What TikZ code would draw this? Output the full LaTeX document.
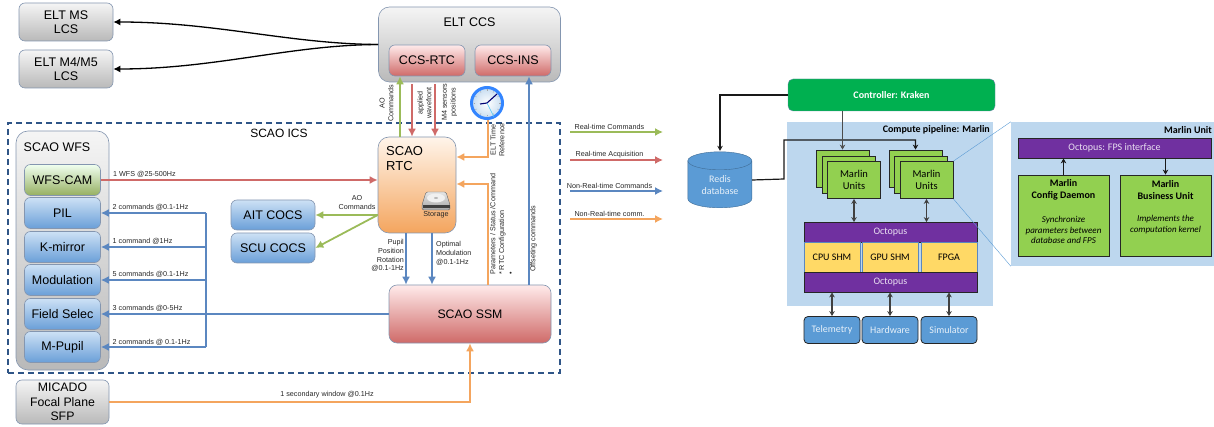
\documentclass[tikz,border=0pt]{standalone}
\usepackage{fontspec}
\setmainfont{Liberation Sans}
\newfontfamily\calibri{Carlito}
\usetikzlibrary{arrows.meta}

\definecolor{rtcgreen}{HTML}{9BBB59}
\definecolor{rtcred}{HTML}{CF6A68}
\definecolor{nrtblue}{HTML}{5B87C0}
\definecolor{nrtorange}{HTML}{F4A55E}
\definecolor{icsblue}{HTML}{2F5587}
\definecolor{boxline}{HTML}{8496B0}
\definecolor{boxtop}{HTML}{CDE1F5}
\definecolor{boxbottom}{HTML}{6A9FD8}
\definecolor{panelblue}{HTML}{BDD7EE}
\definecolor{unitgreen}{HTML}{92D050}
\definecolor{octpurple}{HTML}{7030A0}
\definecolor{shmyellow}{HTML}{FFD966}
\definecolor{dbblue}{HTML}{5B9BD5}
\definecolor{krakengreen}{HTML}{00B050}

\tikzset{
	graybox/.style={draw=boxline, semithick, rounded corners=6pt, top color=gray!8, bottom color=gray!55, align=center, font=\fontsize{12.5}{14.5}\selectfont},
	redbox/.style={draw=boxline, semithick, rounded corners=6pt, top color=red!8!white, bottom color=rtcred, align=center, font=\fontsize{12.5}{14.5}\selectfont},
	bluebox/.style={draw=boxline, semithick, rounded corners=6pt, top color=boxtop, bottom color=boxbottom, minimum width=76, minimum height=31, font=\fontsize{12.5}{14.5}\selectfont},
	wire/.style={line width=1.8pt},
	tip/.style={-{Latex[length=8pt,width=8pt]}},
	rtcmd/.style={wire, tip, rtcgreen},
	rtacq/.style={wire, tip, rtcred},
	nrtcmd/.style={wire, tip, nrtblue},
	nrtcomm/.style={wire, tip, nrtorange},
	small/.style={font=\fontsize{7.2}{8.8}\selectfont, text=black!85, inner sep=0pt, align=center},
	smallside/.style={small, rotate=90},
	legend/.style={small, font=\fontsize{7.2}{9}\selectfont},
	msbox/.style={draw=black!85, thick, font=\calibri\fontsize{10}{12}\selectfont, align=center, inner sep=0pt},
	unit/.style={msbox, fill=unitgreen, font=\calibri\fontsize{10.5}{12}\selectfont, minimum width=53, minimum height=37},
	octopus/.style={msbox, fill=octpurple, text=white!85!octpurple, minimum height=20},
	shm/.style={msbox, draw=nrtblue, semithick, fill=shmyellow, minimum width=56, minimum height=30},
	ioblock/.style={msbox, fill=dbblue, text=white!85!dbblue, rounded corners=4pt, minimum width=56, minimum height=27},
	panel/.style={fill=panelblue, inner sep=0pt},
	paneltitle/.style={font=\calibri\bfseries\fontsize{10}{12}\selectfont, inner sep=0pt, anchor=east},
	link/.style={line width=1.2pt, black!75, {Stealth[length=5pt,width=5.5pt]}-{Stealth[length=5pt,width=5.5pt]}},
	dblink/.style={line width=1.2pt, black!90, -{Stealth[length=5pt,width=5.5pt]}},
	krlink/.style={dblink, line width=1.6pt, black!70}
}

\begin{document}
\begin{tikzpicture}[x=1pt, y=-1pt]
	\useasboundingbox (0, 0) rectangle (1214, 427);

	% left side: control system
	\node[draw=icsblue, line width=1.2pt, dash pattern=on 6pt off 4pt, minimum width=552, minimum height=250, inner sep=0pt] (ics) at (284, 248) {};
	\node[font=\fontsize{12}{14}\selectfont] (icstitle) at (279, 133) {SCAO ICS};

	\node[graybox, minimum width=94, minimum height=38] (eltms) at (66, 22) {ELT MS\\LCS};
	\node[graybox, minimum width=94, minimum height=38] (eltm4) at (66, 69) {ELT M4/M5\\LCS};

	\node[graybox, rounded corners=11pt, minimum width=182, minimum height=75] (ccs) at (469.5, 44.5) {};
	\node[font=\fontsize{12.5}{15}\selectfont] (ccstitle) at (469.5, 22) {ELT CCS};
	\node[redbox, minimum width=76, minimum height=31] (ccsrtc) at (427, 60.5) {CCS-RTC};
	\node[redbox, minimum width=76, minimum height=31] (ccsins) at (513, 60.5) {CCS-INS};

	\node[graybox, rounded corners=12pt, minimum width=93, minimum height=239] (wfs) at (62.5, 250.5) {};
	\node[font=\fontsize{12.5}{14}\selectfont] (wfstitle) at (57, 147) {SCAO WFS};
	\node[bluebox, top color=green!6!white, bottom color=rtcgreen!80!gray] (wfscam) at (62.5, 180) {WFS-CAM};
	\node[bluebox] (pil) at (62.5, 213) {PIL};
	\node[bluebox] (kmirror) at (62.5, 247) {K-mirror};
	\node[bluebox] (modulation) at (62.5, 280) {Modulation};
	\node[bluebox] (fieldsel) at (62.5, 314) {Field Selec};
	\node[bluebox] (mpupil) at (62.5, 347) {M-Pupil};

	\node[graybox, minimum width=93, minimum height=44, inner sep=0pt, font=\fontsize{12.3}{14.6}\selectfont] (micado) at (62.5, 402) {MICADO\\Focal Plane\\SFP};

	\node[bluebox, minimum width=84, minimum height=30] (ait) at (273, 215) {AIT COCS};
	\node[bluebox, minimum width=84, minimum height=30] (scu) at (273, 248) {SCU COCS};

	\node[draw=boxline, semithick, rounded corners=11pt, top color=orange!8!white, bottom color=nrtorange, minimum width=78, minimum height=96] (rtc) at (417, 185) {};
	\node[anchor=north west, align=left, inner sep=0pt, font=\fontsize{13}{15.5}\selectfont] (rtctitle) at (386, 146) {SCAO\\RTC};
	\node[redbox, rounded corners=8pt, minimum width=162, minimum height=58, font=\fontsize{12.3}{15}\selectfont] (ssm) at (470, 314) {SCAO SSM};

	% storage icon
	\draw[draw=black!60, top color=gray!20, bottom color=gray!70, rounded corners=1.5pt] (426, 192) -- (446, 192) -- (450, 205) -- (450, 210) -- (422, 210) -- (422, 205) -- cycle;
	\fill[gray!12] (436, 198) ellipse (9 and 4.5);
	\fill[gray!55] (436, 198) ellipse (2 and 1);
	\fill[black!75] (422.5, 205) rectangle (449.5, 208);
	\node[small] (storage) at (436, 215) {Storage};

	% clock icon
	\node[circle, fill=white, inner color=white, outer color=dbblue!35!white, draw=blue!60!cyan!80!white, line width=3pt, minimum size=31, inner sep=0pt] (clock) at (487, 103) {};
	\foreach \ang in {0, 30, ..., 330} {
		\draw[gray!70, thin] (clock.center) ++(\ang:12) -- ++(\ang:1.5);
	}
	\draw[line width=1.1pt, blue!45!black] (clock.center) -- +(10, -9);
	\draw[line width=1.1pt, blue!45!black] (clock.center) -- +(-7, 1);
	\draw[semithick, cyan!70] (clock.center) -- +(7, 14);

	% connectors between the boxes
	\draw[line width=1.3pt, black, -{Latex[length=7pt,width=7pt]}] (ccs.west) .. controls (290, 44) and (215, 22) .. (eltms.east);
	\draw[line width=1.3pt, black, -{Latex[length=7pt,width=7pt]}] (ccs.west) .. controls (290, 45) and (215, 69) .. (eltm4.east);

	\draw[rtcmd] ([xshift=-17pt]rtc.north) -- ([xshift=-27pt]ccsrtc.south);
	\draw[rtacq] ([xshift=-15pt,yshift=-8pt]ccsrtc.south) -- ([xshift=-5pt]rtc.north);
	\draw[rtacq] ([xshift=8pt,yshift=-8pt]ccsrtc.south) -- ([xshift=18pt]rtc.north);
	\draw[nrtcmd] ([xshift=59pt]ssm.north) -- ([xshift=16pt]ccsins.south);

	\draw[rtacq] (wfscam.east) -- (rtc.west |- wfscam.east);

	\coordinate (bus) at (206, 314);
	\draw[wire, nrtblue] (ssm.west) -- (bus);
	\draw[wire, nrtblue] (bus |- pil.east) -- (bus |- mpupil.east);
	\draw[nrtcmd] (bus |- pil.east) -- (pil.east);
	\draw[nrtcmd] (bus |- kmirror.east) -- (kmirror.east);
	\draw[nrtcmd] (bus |- modulation.east) -- (modulation.east);
	\draw[nrtcmd] (bus) -- (fieldsel.east);
	\draw[nrtcmd] (bus |- mpupil.east) -- (mpupil.east);

	\draw[rtcmd] (rtc.west |- ait.east) -- (ait.east);
	\draw[rtcmd] (rtc.west |- ait.east) -- (scu.east);

	\draw[nrtcmd] ([xshift=-11pt]rtc.south) -- ([xshift=-64pt]ssm.north);
	\draw[nrtcmd] ([xshift=15pt]rtc.south) -- ([xshift=-38pt]ssm.north);

	\coordinate (timecorner) at (488, 157);
	\draw[nrtcomm] (clock.south -| timecorner) -- (timecorner) -- (rtc.east |- timecorner);
	\coordinate (statuscorner) at (488, 184);
	\draw[nrtcomm] ([xshift=18pt]ssm.north) -- (statuscorner) -- (rtc.east |- statuscorner);

	\coordinate (windowcorner) at (470, 402);
	\draw[nrtcomm] (micado.east) -- (windowcorner) -- (ssm.south);

	% labels
	\node[small, anchor=west] (lwfs) at (113, 174) {1 WFS @25-500Hz};
	\node[small, anchor=west] (lpil) at (112.5, 207.5) {2 commands @0.1-1Hz};
	\node[small, anchor=west] (lkm) at (112.5, 241.5) {1 command @1Hz};
	\node[small, anchor=west] (lmod) at (112.5, 274.5) {5 commands @0.1-1Hz};
	\node[small, anchor=west] (lfs) at (112.5, 308.5) {3 commands @0-5Hz};
	\node[small, anchor=west] (lmp) at (112.5, 342) {2 commands @ 0.1-1Hz};
	\node[small] (lsec) at (327, 395) {1 secondary window @0.1Hz};
	\node[small] (laocos) at (357, 202.5) {AO\\Commands};
	\node[small, align=right, anchor=north east] (lpupil) at (404, 239) {Pupil\\Position\\Rotation\\@0.1-1Hz};
	\node[small, align=left, anchor=north west] (lopt) at (436, 241) {Optimal\\Modulation\\@0.1-1Hz};
	\node[smallside] (laoccs) at (386.5, 103) {AO\\Commands};
	\node[smallside] (lwave) at (424.5, 103) {applied\\wavefront};
	\node[smallside] (lm4) at (449.5, 102) {M4 sensors\\positions};
	\node[smallside] (ltime) at (497.5, 140) {ELT Time\\Reference};
	\node[smallside, align=left, anchor=north west] (lstatus) at (490, 275) {Parameters / Status /Command\\* RTC Configuration\\\textbullet};
	\node[smallside, anchor=south west] (loffset) at (537, 272) {Offseting commands};

	% legend
	\coordinate (lg1a) at (570, 132);
	\coordinate (lg1b) at (663, 132);
	\coordinate (lg2a) at (570, 160);
	\coordinate (lg2b) at (663, 160);
	\coordinate (lg3a) at (570, 191);
	\coordinate (lg3b) at (663, 191);
	\coordinate (lg4a) at (570, 219);
	\coordinate (lg4b) at (663, 219);
	\draw[rtcmd, line width=1.5pt] (lg1a) -- (lg1b);
	\draw[rtacq, line width=1.5pt] (lg2a) -- (lg2b);
	\draw[nrtcmd, line width=1.5pt] (lg3a) -- (lg3b);
	\draw[nrtcomm, line width=1.5pt] (lg4a) -- (lg4b);
	\node[legend] (lgt1) at (609.5, 127) {Real-time Commands};
	\node[legend] (lgt2) at (609.5, 155) {Real-time Acquisition};
	\node[legend] (lgt3) at (609.5, 186) {Non-Real-time Commands};
	\node[legend] (lgt4) at (609.5, 214) {Non-Real-time comm.};

	% right side: kraken and marlin
	\node[panel, minimum width=206, minimum height=184] (pipeline) at (890, 214) {};
	\node[paneltitle] (pipetitle) at (990, 130) {Compute pipeline: Marlin};
	\node[panel, minimum width=203, minimum height=144] (unitpanel) at (1112.5, 194) {};
	\node[paneltitle] (unitpaneltitle) at (1212, 130) {Marlin Unit};

	\node[draw=icsblue!70, fill=krakengreen, text=white, rounded corners=5pt, minimum width=207, minimum height=32, font=\calibri\bfseries\fontsize{10}{12}\selectfont] (kraken) at (891.5, 95) {Controller: Kraken};

	% redis drum, the node only holds the anchors and the text
	\node[minimum width=64, minimum height=56, inner sep=0pt] (redisbox) at (720, 180) {};
	\draw[draw=dbblue!70!black, fill=dbblue] (redisbox.north west) ++(0, 9) -- ++(0, 38) arc (180:0:32 and 9) -- ++(0, -38) arc (0:-180:32 and 9) -- cycle;
	\draw[draw=dbblue!70!black] (redisbox.north west) ++(0, 9) arc (180:0:32 and 9);
	\node[inner sep=0pt, align=center, text=white!85!dbblue, font=\calibri\fontsize{10}{12}\selectfont] (redis) at (720, 185) {Redis\\database};

	\node[unit] (unita1) at (842.5, 168.5) {};
	\node[unit] (unita2) at (848.5, 174.5) {};
	\node[unit] (unita3) at (854, 180) {Marlin\\Units};
	\node[unit] (unitb1) at (915.5, 168.5) {};
	\node[unit] (unitb2) at (921, 174.5) {};
	\node[unit] (unitb3) at (926.5, 180) {Marlin\\Units};

	\node[octopus, minimum width=173] (octtop) at (890.5, 232.5) {Octopus};
	\node[shm] (cpushm) at (832, 257) {CPU SHM};
	\node[shm] (gpushm) at (890, 257) {GPU SHM};
	\node[shm] (fpga) at (949, 257) {FPGA};
	\node[octopus, minimum width=173] (octbot) at (890.5, 282) {Octopus};
	\node[ioblock] (telemetry) at (832, 330) {Telemetry};
	\node[ioblock] (hardware) at (890, 330) {Hardware};
	\node[ioblock] (simulator) at (949, 330) {Simulator};

	\node[octopus, minimum width=193] (octfps) at (1114.5, 148) {Octopus: FPS interface};
	\node[unit, minimum width=91, minimum height=81] (daemon) at (1063.5, 215.5) {};
	\node[unit, minimum width=91, minimum height=81] (business) at (1165.5, 215.5) {};
	\node[inner sep=0pt, align=center, font=\calibri\bfseries\fontsize{10}{12.3}\selectfont] (daemontitle) at (1063.5, 190) {Marlin\\Config Daemon};
	\node[inner sep=0pt, align=center, font=\calibri\itshape\fontsize{9}{10.5}\selectfont] (daemontext) at (1063.5, 230) {Synchronize\\parameters between\\database and FPS};
	\node[inner sep=0pt, align=center, font=\calibri\bfseries\fontsize{10}{12.3}\selectfont] (businesstitle) at (1165.5, 190) {Marlin\\Business Unit};
	\node[inner sep=0pt, align=center, font=\calibri\itshape\fontsize{9}{10.5}\selectfont] (businesstext) at (1165.5, 224.5) {Implements the\\computation kernel};

	\coordinate (kraktop) at (720, 95);
	\draw[dblink] (kraken.west) -- (kraktop) -- ([yshift=1pt]redisbox.north);
	\coordinate (busleft) at (784, 179);
	\coordinate (busup) at (784, 140);
	\draw[dblink] (redisbox.east) -- (busleft) -- (busup) -- (busup -| unitb1.north) -- (unitb1.north);
	\draw[krlink] (kraken.south -| unita1.north) -- (unita1.north);

	\draw[link] (unita3.south) -- (octtop.north -| unita3.south);
	\draw[link] (unitb3.south) -- (octtop.north -| unitb3.south);
	\draw[link] (octbot.south -| telemetry.north) -- (telemetry.north);
	\draw[link] (octbot.south -| hardware.north) -- (hardware.north);
	\draw[link] (octbot.south -| simulator.north) -- (simulator.north);
	\draw[dblink] (daemon.north) -- (octfps.south -| daemon.north);
	\draw[dblink] (octfps.south -| business.north) -- (business.north);

	\draw[dbblue, thin] (unitb3.north east) -- (unitpanel.north west);
	\draw[dbblue, thin] (unitb3.south east) -- (unitpanel.south west);
\end{tikzpicture}
\end{document}
